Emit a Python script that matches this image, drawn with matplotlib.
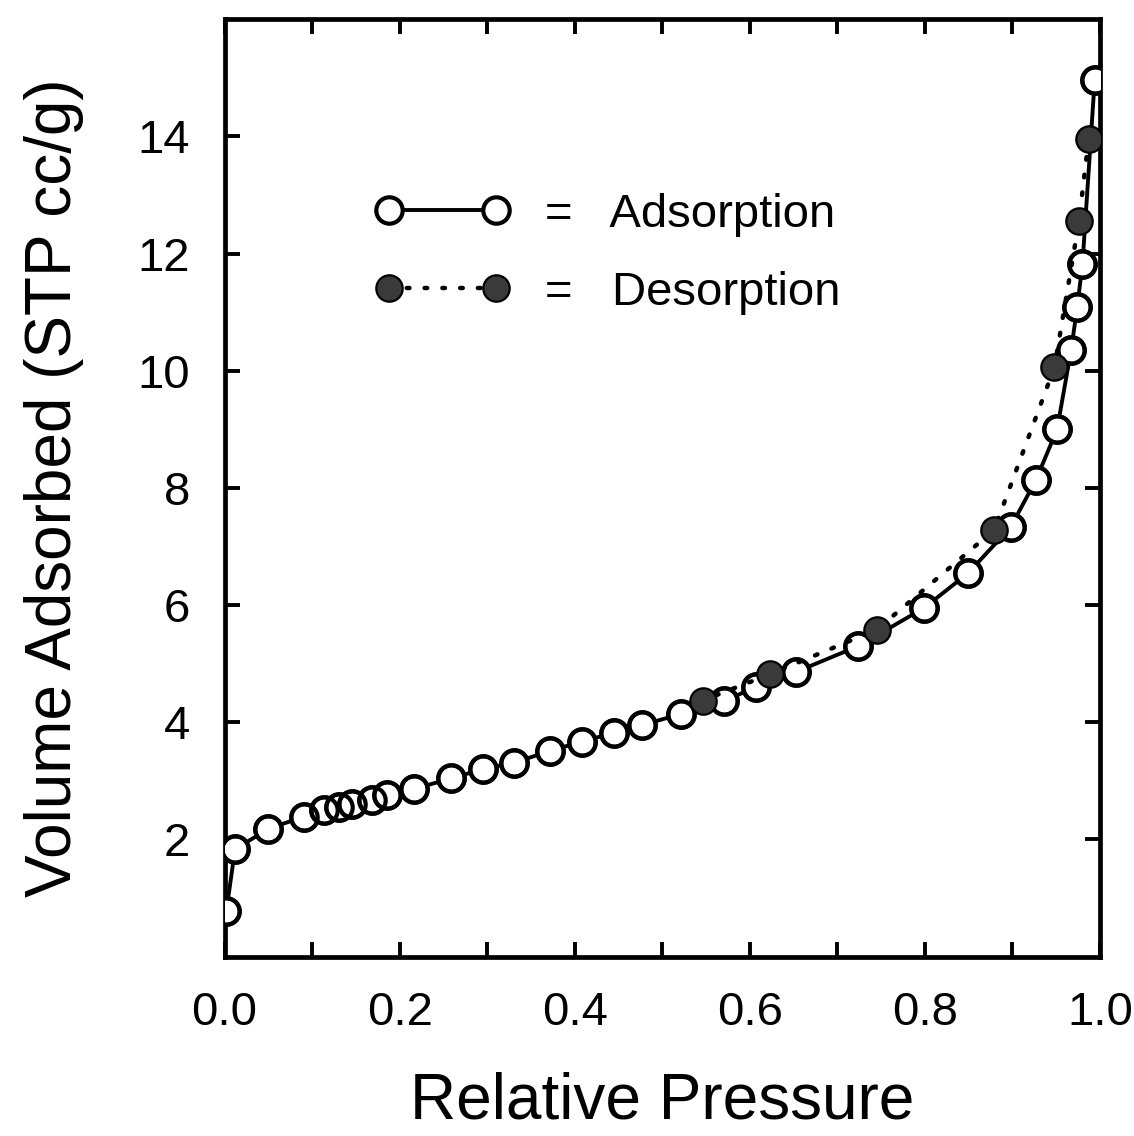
"""Nitrogen isotherm: volume adsorbed vs relative pressure (adsorption / desorption)."""

import matplotlib
matplotlib.use("Agg")
import matplotlib.pyplot as plt
from matplotlib.ticker import MultipleLocator

# Adsorption branch (open circles, solid line)
ADS_P = [0.002, 0.012, 0.050, 0.091, 0.114, 0.131, 0.146, 0.168, 0.186, 0.216,
         0.259, 0.295, 0.331, 0.372, 0.408, 0.445, 0.477, 0.521, 0.570, 0.607,
         0.653, 0.724, 0.799, 0.849, 0.898, 0.927, 0.951, 0.967, 0.974, 0.980,
         0.994]
ADS_V = [0.77, 1.83, 2.18, 2.39, 2.50, 2.55, 2.61, 2.68, 2.76, 2.86,
         3.04, 3.20, 3.31, 3.51, 3.67, 3.82, 3.95, 4.14, 4.36, 4.60,
         4.86, 5.30, 5.95, 6.54, 7.33, 8.14, 9.00, 10.35, 11.09, 11.82,
         14.97]

# Desorption branch (filled circles, dotted line), high to low pressure
DES_P = [0.987, 0.976, 0.948, 0.879, 0.745, 0.623, 0.546]
DES_V = [13.95, 12.55, 10.06, 7.28, 5.58, 4.82, 4.37]

X_TICKS = [0.0, 0.2, 0.4, 0.6, 0.8, 1.0]
Y_TICKS = [2, 4, 6, 8, 10, 12, 14]

plt.rcParams["font.family"] = ["Liberation Sans", "DejaVu Sans"]

fig = plt.figure(figsize=(11.34, 11.36), dpi=100)
ax = fig.add_axes([0.198, 0.158, 0.772, 0.825])

ms = 19
mew = 3.0

# adsorption: line + white-faced markers, then open outlines on top so
# overlapping circles stay visible
ax.plot(ADS_P, ADS_V, "-", color="black", lw=2.8, marker="o", ms=ms,
        mfc="white", mec="black", mew=mew, zorder=3,
        label="=   Adsorption")
ax.plot(ADS_P, ADS_V, "none", marker="o", ms=ms, mfc="none", mec="black",
        mew=mew, zorder=4)

ax.plot(DES_P, DES_V, color="black", lw=3.2, linestyle=(0, (0.6, 3.4)),
        dash_capstyle="round", marker="o", ms=ms, mfc="#3a3a3a",
        mec="black", mew=1.6, zorder=5, label="=   Desorption")

ax.set_xlim(0, 1.0)
ax.set_ylim(0, 16)
ax.set_xticks(X_TICKS)
ax.set_xticklabels([f"{t:.1f}" for t in X_TICKS])
ax.xaxis.set_minor_locator(MultipleLocator(0.1))
ax.set_yticks(Y_TICKS)

ax.tick_params(which="both", direction="in", top=True, right=True,
               length=11, width=2.8, labelsize=34, pad=25)
for side in ax.spines.values():
    side.set_linewidth(3.4)

ax.set_xlabel("Relative Pressure", fontsize=46, labelpad=26)
ax.set_ylabel("Volume Adsorbed (STP cc/g)", fontsize=46, labelpad=38)

ax.legend(loc="upper left", bbox_to_anchor=(0.172, 0.815), frameon=False,
          numpoints=2, handlelength=2.85, handletextpad=0.75, fontsize=34,
          borderpad=0, borderaxespad=0, labelspacing=0.72)

fig.savefig("out.png", dpi=100)
